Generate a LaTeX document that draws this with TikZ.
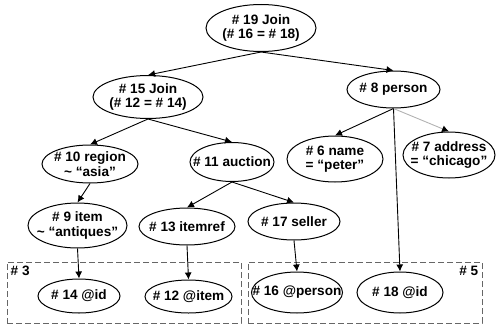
\documentclass[tikz,border=0pt]{standalone}
\usepackage{fontspec}
\setmainfont{Liberation Sans}
\usetikzlibrary{arrows.meta}
\usetikzlibrary{shapes.geometric}

\begin{document}
\begin{tikzpicture}[x=1pt,y=-1pt]
    \tikzset{vertex/.style 2 args = {shape=ellipse,draw,line width=1pt,inner xsep=-60pt,inner ysep=-8pt,minimum width=#1,minimum height=#2,align=center,font=\bfseries\fontsize{13.6}{14.5}\selectfont}}
    \tikzset{group/.style = {shape=rectangle,draw=black!60,dash pattern=on 6pt off 3pt,line width=1pt}}
    \tikzset{grouptag/.style = {shape=rectangle,draw=none,inner sep=4pt,font=\bfseries\fontsize{13.6}{14.5}\selectfont}}
    \tikzset{edge/.style = {-{Latex[length=7pt,width=7pt]},line width=0.9pt}}

    \useasboundingbox (0,0) rectangle (500,324);

    % groups

    \node[group,minimum width=234pt,minimum height=61pt] (g3) at (124,292.5) {};
    \node[group,minimum width=234pt,minimum height=61pt] (g5) at (365,292.5) {};
    \node[grouptag,anchor=north west] (t3) at (g3.north west) {\# 3};
    \node[grouptag,anchor=north east] (t5) at (g5.north east) {\# 5};

    % vertices

    \node[vertex={110pt}{47pt}] (j19) at (261,28) {\# 19 Join\\(\# 16 = \# 18)};

    \node[vertex={110pt}{43pt}] (j15) at (148,97) {\# 15 Join\\(\# 12 = \# 14)};
    \node[vertex={93pt}{37pt}] (p8) at (393.5,89.5) {\# 8 person};

    \node[vertex={96pt}{38pt}] (r10) at (90,164) {\# 10 region\\\textasciitilde{} “asia”};
    \node[vertex={84pt}{39pt}] (a11) at (232,162) {\# 11 auction};
    \node[vertex={96pt}{46pt}] (n6) at (335,159) {\# 6 name\\= “peter”};
    \node[vertex={92pt}{46pt}] (ad7) at (449,155) {\# 7 address\\= “chicago”};

    \node[vertex={99pt}{45pt}] (i9) at (77.5,225.5) {\# 9 item\\\textasciitilde{} “antiques”};
    \node[vertex={96pt}{37pt}] (ir13) at (187,226.5) {\# 13 itemref};
    \node[vertex={92pt}{37pt}] (s17) at (294,221.5) {\# 17 seller};

    \node[vertex={82pt}{34pt}] (id14) at (79,296) {\# 14 @id};
    \node[vertex={87pt}{33pt}] (it12) at (188.5,296.5) {\# 12 @item};
    \node[vertex={91pt}{41pt}] (pe16) at (297,292.5) {\# 16 @person};
    \node[vertex={86pt}{41pt}] (id18) at (400,292.5) {\# 18 @id};

    % edges

    \draw[edge] (j19.south) to (j15.north);
    \draw[edge] (j19.south) to (p8.north);
    \draw[edge] (j15.south) to (r10.north);
    \draw[edge] (j15.south) to (a11.north);
    \draw[edge] (p8.south) to (n6.north);
    \draw[edge,black!30,-{Latex[length=7pt,width=7pt,black]}] (p8.south) to (ad7.north);
    \draw[edge] (p8.south) to (id18.north);
    \draw[edge] (r10.south) to (i9.north);
    \draw[edge] (a11.south) to (ir13.north);
    \draw[edge] (a11.south) to (s17.north);
    \draw[edge] (i9.south) to (id14.north);
    \draw[edge] (ir13.south) to (it12.north);
    \draw[edge] (s17.south) to (pe16.north);
\end{tikzpicture}
\end{document}
